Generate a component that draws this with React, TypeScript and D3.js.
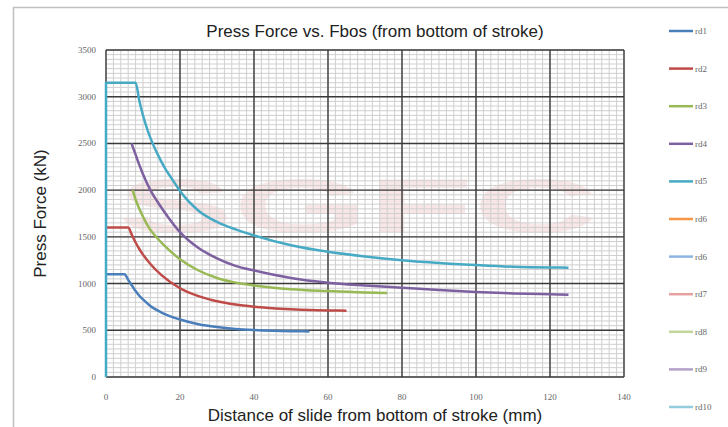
import React, { useRef, useEffect } from 'react';
import * as d3 from 'd3';

const width = 728;
const height = 427;
const plot = { left: 106, right: 624, top: 50, bottom: 377 };

const seriesNames = ['rd1', 'rd2', 'rd3', 'rd4', 'rd5', 'rd6', 'rd6', 'rd7', 'rd8', 'rd9', 'rd10'];
const seriesColors = ['#4a7ebb', '#be4b48', '#98b954', '#7d60a0', '#46aac5', '#f79646', '#8eb4e3', '#e6a0a0', '#c3d69b', '#b3a2c7', '#93cddd'];

const xTicks = [0, 20, 40, 60, 80, 100, 120, 140];
const yTicks = [0, 500, 1000, 1500, 2000, 2500, 3000, 3500];

// [distance mm, force kN]
const rd1: [number, number][] = [
  [0, 1100], [5, 1100], [6, 1040], [7, 980], [8, 920], [9, 870], [10, 830], [12, 760], [15, 690],
  [20, 615], [25, 565], [30, 535], [35, 515], [40, 503], [45, 495], [50, 490], [55, 488],
];
const rd2: [number, number][] = [
  [0, 1600], [6, 1600], [7, 1520], [8, 1440], [9, 1370], [10, 1310], [12, 1210], [15, 1090],
  [20, 950], [25, 865], [30, 810], [35, 775], [40, 752], [45, 735], [50, 724], [55, 716], [60, 712], [65, 710],
];
const rd3: [number, number][] = [
  [7.2, 2000], [8, 1900], [9, 1800], [10, 1715], [11, 1640], [12, 1575], [14, 1480], [17, 1360],
  [20, 1260], [25, 1140], [30, 1060], [35, 1010], [40, 980], [50, 940], [60, 920], [70, 905], [76, 900],
];
const rd4: [number, number][] = [
  [6.9, 2500], [8, 2380], [9, 2270], [10, 2170], [12, 2000], [14, 1870], [17, 1700], [20, 1550],
  [25, 1380], [30, 1270], [35, 1190], [40, 1140], [50, 1060], [60, 1010], [70, 980], [80, 955],
  [90, 930], [100, 910], [110, 895], [120, 885], [125, 880],
];
const rd5: [number, number][] = [
  [0, 0], [0, 3150], [8, 3150], [9, 2960], [10, 2800], [11, 2670], [12, 2560], [14, 2380],
  [16, 2230], [18, 2110], [20, 1990], [25, 1780], [30, 1660], [35, 1580], [40, 1515], [50, 1410],
  [60, 1340], [70, 1290], [80, 1250], [90, 1220], [100, 1198], [110, 1180], [120, 1172], [125, 1170],
];
const curves = [rd1, rd2, rd3, rd4, rd5];

const App: React.FC = () => {
  const ref = useRef<SVGSVGElement>(null);

  useEffect(() => {
    const svg = d3.select(ref.current);
    svg.selectAll('*').remove();

    const x = d3.scaleLinear().domain([0, 140]).range([plot.left, plot.right]);
    const y = d3.scaleLinear().domain([0, 3500]).range([plot.bottom, plot.top]);

    svg.append('rect').attr('width', width).attr('height', height).attr('fill', '#fff');
    svg
      .append('rect')
      .attr('x', 13.5)
      .attr('y', 7.5)
      .attr('width', width)
      .attr('height', height)
      .attr('fill', 'none')
      .attr('stroke', '#c0c0c0')
      .attr('stroke-width', 1.5);

    // watermark
    svg
      .append('text')
      .attr('x', 118)
      .attr('y', 232)
      .attr('textLength', 480)
      .attr('lengthAdjust', 'spacingAndGlyphs')
      .attr('font-family', 'Liberation Sans, Arial, sans-serif')
      .attr('font-weight', 'bold')
      .attr('font-size', 76)
      .attr('fill', '#f2c4c4')
      .attr('opacity', 0.4)
      .text('SGFC');

    // minor grid
    const minor = svg.append('g').attr('stroke', '#cfcfcf').attr('stroke-width', 1);
    minor
      .selectAll('line.vx')
      .data(d3.range(0, 141, 2))
      .join('line')
      .attr('x1', (d) => x(d))
      .attr('x2', (d) => x(d))
      .attr('y1', plot.top)
      .attr('y2', plot.bottom);
    minor
      .selectAll('line.hy')
      .data(d3.range(0, 3501, 50))
      .join('line')
      .attr('y1', (d) => y(d))
      .attr('y2', (d) => y(d))
      .attr('x1', plot.left)
      .attr('x2', plot.right);

    // major grid
    const major = svg.append('g').attr('stroke', '#3a3a3a').attr('stroke-width', 1.4);
    major
      .selectAll('line.mx')
      .data(xTicks)
      .join('line')
      .attr('x1', (d) => x(d))
      .attr('x2', (d) => x(d))
      .attr('y1', plot.top)
      .attr('y2', plot.bottom);
    major
      .selectAll('line.my')
      .data(yTicks)
      .join('line')
      .attr('y1', (d) => y(d))
      .attr('y2', (d) => y(d))
      .attr('x1', plot.left)
      .attr('x2', plot.right);

    // curves
    const line = d3
      .line<[number, number]>()
      .x((d) => x(d[0]))
      .y((d) => y(d[1]))
      .curve(d3.curveMonotoneX);
    const lineLinear = d3
      .line<[number, number]>()
      .x((d) => x(d[0]))
      .y((d) => y(d[1]));
    curves.forEach((c, i) => {
      const vertical = c[0][0] === c[1][0];
      svg
        .append('path')
        .attr('d', vertical ? lineLinear(c.slice(0, 2)) + (line(c.slice(1)) || '').replace(/^M/, 'L') : line(c))
        .attr('fill', 'none')
        .attr('stroke', seriesColors[i])
        .attr('stroke-width', 2.5)
        .attr('stroke-linejoin', 'round');
    });

    // tick labels
    const tickFont = 'Liberation Serif, DejaVu Serif, serif';
    svg
      .append('g')
      .selectAll('text')
      .data(yTicks)
      .join('text')
      .attr('x', plot.left - 10)
      .attr('y', (d) => y(d) + 3)
      .attr('text-anchor', 'end')
      .attr('font-family', tickFont)
      .attr('font-size', 9)
      .attr('fill', '#666')
      .text((d) => String(d));
    svg
      .append('g')
      .selectAll('text')
      .data(xTicks)
      .join('text')
      .attr('x', (d) => x(d))
      .attr('y', plot.bottom + 23)
      .attr('text-anchor', 'middle')
      .attr('font-family', tickFont)
      .attr('font-size', 9)
      .attr('fill', '#666')
      .text((d) => String(d));

    const labelFont = 'Liberation Sans, Arial, sans-serif';
    svg
      .append('text')
      .attr('x', (plot.left + plot.right) / 2 + 10)
      .attr('y', 37)
      .attr('text-anchor', 'middle')
      .attr('font-family', labelFont)
      .attr('font-size', 17)
      .attr('fill', '#222')
      .text('Press Force vs. Fbos (from bottom of stroke)');
    svg
      .append('text')
      .attr('x', (plot.left + plot.right) / 2 + 10)
      .attr('y', 421)
      .attr('text-anchor', 'middle')
      .attr('font-family', labelFont)
      .attr('font-size', 17)
      .attr('fill', '#222')
      .text('Distance of slide from bottom of stroke (mm)');
    svg
      .append('text')
      .attr('transform', `translate(46,${(plot.top + plot.bottom) / 2}) rotate(-90)`)
      .attr('text-anchor', 'middle')
      .attr('font-family', labelFont)
      .attr('font-size', 17)
      .attr('fill', '#222')
      .text('Press Force (kN)');

    // legend
    const legend = svg
      .append('g')
      .selectAll('g')
      .data(seriesNames)
      .join('g')
      .attr('transform', (d, i) => `translate(669,${31 + i * 37.6})`);
    legend
      .append('line')
      .attr('x1', 0)
      .attr('x2', 24)
      .attr('stroke', (d, i) => seriesColors[i])
      .attr('stroke-width', 2.5);
    legend
      .append('text')
      .attr('x', 26)
      .attr('y', 3)
      .attr('font-family', tickFont)
      .attr('font-size', 9)
      .attr('fill', '#666')
      .text((d) => d);
  }, []);

  return <svg ref={ref} width={width} height={height} style={{ position: 'absolute', left: 0, top: 0 }} />;
};

export default App;
